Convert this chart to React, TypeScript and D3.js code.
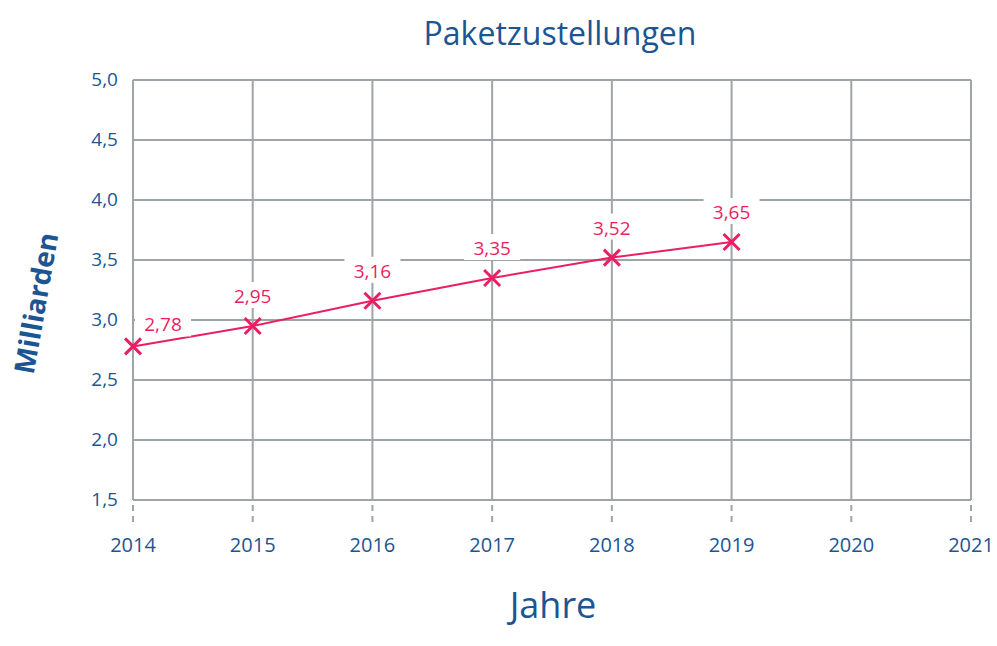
import React from "react";
import * as d3 from "d3";

const years = [2014, 2015, 2016, 2017, 2018, 2019];
const values = [2.78, 2.95, 3.16, 3.35, 3.52, 3.65];
const valueLabels = ["2,78", "2,95", "3,16", "3,35", "3,52", "3,65"];
const xTicks = [2014, 2015, 2016, 2017, 2018, 2019, 2020, 2021];
const yTicks = [1.5, 2.0, 2.5, 3.0, 3.5, 4.0, 4.5, 5.0];
const yTickLabels = ["1,5", "2,0", "2,5", "3,0", "3,5", "4,0", "4,5", "5,0"];

const W = 997, H = 646;
const left = 133, right = 971, top = 80, bottom = 500;
const BLUE = "#1b5592";
const PINK = "#ea1e63";
const GRID = "#9ea4a7";
const FONT = "'Open Sans', sans-serif";

export default function App() {
  const x = d3.scaleLinear().domain([2014, 2021]).range([left, right]);
  const y = d3.scaleLinear().domain([1.5, 5.0]).range([bottom, top]);
  const line = d3.line<number>().x((_, i) => x(years[i])).y((v) => y(v));
  const pathD = line(values) || "";
  const m = 8;
  return (
    <svg width={W} height={H} style={{ position: "absolute", left: 0, top: 0, background: "#fff" }}>
      <text x={560} y={45} textAnchor="middle" fill={BLUE} fontFamily={FONT} fontSize={32} fontWeight={500}>Paketzustellungen</text>
      {yTicks.map((t) => (
        <line key={"gy" + t} x1={left} x2={right} y1={y(t)} y2={y(t)} stroke={GRID} strokeWidth={2} />
      ))}
      {xTicks.map((t) => (
        <line key={"gx" + t} x1={x(t)} x2={x(t)} y1={top} y2={bottom} stroke={GRID} strokeWidth={2} />
      ))}
      {xTicks.map((t) => (
        <line key={"tk" + t} x1={x(t)} x2={x(t)} y1={bottom + 5} y2={bottom + 26} stroke={GRID} strokeWidth={2} strokeDasharray="6,5" />
      ))}
      {yTicks.map((t, i) => (
        <text key={"yl" + t} x={118} y={y(t) + 6} textAnchor="end" fill={BLUE} fontFamily={FONT} fontSize={19}>{yTickLabels[i]}</text>
      ))}
      {xTicks.map((t) => (
        <text key={"xl" + t} x={x(t)} y={552} textAnchor="middle" fill={BLUE} fontFamily={FONT} fontSize={20}>{t}</text>
      ))}
      <text x={553} y={618} textAnchor="middle" fill={BLUE} fontFamily={FONT} fontSize={36} fontWeight={500}>Jahre</text>
      <text transform="translate(46,305) rotate(-80)" textAnchor="middle" fill={BLUE} fontFamily={FONT} fontSize={28} fontWeight={700}>Milliarden</text>
      <path d={pathD} fill="none" stroke={PINK} strokeWidth={2} />
      {values.map((v, i) => {
        const cx = x(years[i]);
        const cy = y(v);
        return (
          <g key={"m" + i}>
            <line x1={cx - m} y1={cy - m} x2={cx + m} y2={cy + m} stroke={PINK} strokeWidth={3} />
            <line x1={cx - m} y1={cy + m} x2={cx + m} y2={cy - m} stroke={PINK} strokeWidth={3} />
          </g>
        );
      })}
      {values.map((v, i) => {
        const cx = x(years[i]) + (i === 0 ? 30 : 0);
        const cy = y(v) - (i === 0 ? 22 : 30);
        return (
          <g key={"l" + i}>
            <rect x={cx - 28} y={cy - 14} width={56} height={26} fill="#fff" />
            <text x={cx} y={cy + 7} textAnchor="middle" fill={PINK} fontFamily={FONT} fontSize={19}>{valueLabels[i]}</text>
          </g>
        );
      })}
    </svg>
  );
}
